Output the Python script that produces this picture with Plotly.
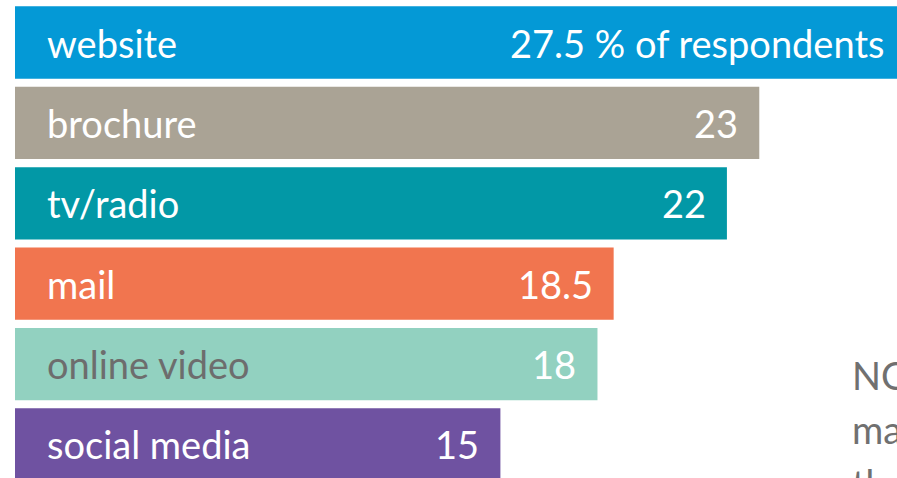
import plotly.graph_objects as go

# data
channels = ["website", "brochure", "tv/radio", "mail", "online video", "social media"]
shares = [27.5, 23, 22, 18.5, 18, 15]
value_labels = ["27.5 % of respondents", "23", "22", "18.5", "18", "15"]
bar_colors = ["#0499d6", "#aaa395", "#0298a6", "#f1754f", "#92d1c0", "#6f52a1"]
label_colors = ["white", "white", "white", "white", "#6d6d6d", "white"]
note_lines = ["NOTE:", "many", "that"]

FONT = "Lato"
W, H = 920, 478
L = 15
PX_PER_UNIT = 32.36

fig = go.Figure(go.Bar(
    x=shares,
    y=channels,
    orientation="h",
    marker=dict(color=bar_colors, line=dict(width=0)),
    hoverinfo="skip",
))

# labels inside the bars
for name, val, txt, col in zip(channels, shares, value_labels, label_colors):
    fig.add_annotation(x=0, y=name, text=name, xref="x", yref="y",
                       xanchor="left", xshift=30, showarrow=False,
                       font=dict(family=FONT, size=38, color=col))
    fig.add_annotation(x=val, y=name, text=txt, xref="x", yref="y",
                       xanchor="right", xshift=-19, showarrow=False,
                       font=dict(family=FONT, size=38, color="white"))

# note text on the right, running off the edge
for i, line in enumerate(note_lines):
    fig.add_annotation(x=(850 - L) / (W - L), y=1 - (375 + i * 54) / H,
                       xref="paper", yref="paper",
                       text=line, showarrow=False, xanchor="left", yanchor="middle",
                       font=dict(family=FONT, size=38, color="#707070"))

fig.update_layout(
    width=W, height=H,
    margin=dict(l=L, r=0, t=0, b=0),
    paper_bgcolor="white", plot_bgcolor="white",
    bargap=0.1,
    showlegend=False,
    xaxis=dict(range=[0, (W - L) / PX_PER_UNIT], visible=False, fixedrange=True),
    yaxis=dict(range=[5.417, -0.529], visible=False, fixedrange=True,
               categoryorder="array", categoryarray=channels),
)

# no page margin, and the part past the window is simply cut off
fig.write_html("out.html", config={"displayModeBar": False, "responsive": False},
               post_script="document.body.style.margin='0';"
                           "document.body.style.overflow='hidden';")
